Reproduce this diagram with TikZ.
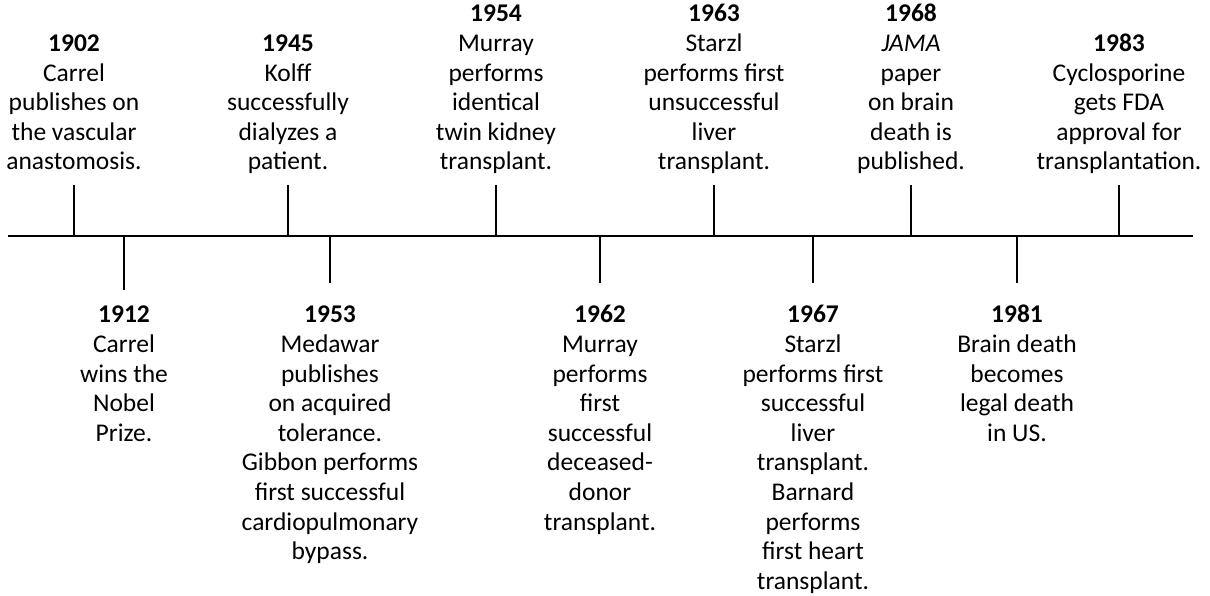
\documentclass[tikz,border=0pt]{standalone}
\usepackage{fontspec}
\setmainfont{Carlito}
\begin{document}
\begin{tikzpicture}[x=1pt,y=-1pt,
  axisline/.style={line width=2.8pt},
  tickline/.style={line width=2.6pt},
  lbl/.style={align=center,inner sep=0pt,font=\fontsize{25.5}{29.6}\selectfont},
  upper/.style={lbl,anchor=south},
  lower/.style={lbl,anchor=north}]
\useasboundingbox (0,0) rectangle (1210,596);
\fill[white] (0,0) rectangle (1210,596);
\coordinate (L) at (8,236);
\coordinate (R) at (1193,236);
\draw[axisline] (L) -- (R);
% upper ticks
\foreach \nm/\x in {1902/74,1945/288,1954/496,1963/714,1968/911,1983/1119}{
  \coordinate (a\nm) at (\x,236);
  \coordinate (t\nm) at (\x,185);
  \draw[tickline] (a\nm) -- (t\nm);
}
% lower ticks
\foreach \nm/\x/\e in {1912/124/290,1953/330/283,1962/600/283,1967/813/283,1981/1017/283}{
  \coordinate (a\nm) at (\x,236);
  \coordinate (t\nm) at (\x,\e);
  \draw[tickline] (a\nm) -- (t\nm);
}
% upper labels
\node[upper] (n1902) at (74,179) {\textbf{1902}\\Carrel\\publishes on\\the vascular\\anastomosis.\strut};
\node[upper] (n1945) at (288,179) {\textbf{1945}\\Kolff\\successfully\\dialyzes a\\patient.\strut};
\node[upper] (n1954) at (496,179) {\textbf{1954}\\Murray\\performs\\identical\\twin kidney\\transplant.\strut};
\node[upper] (n1963) at (714,179) {\textbf{1963}\\Starzl\\performs first\\unsuccessful\\liver\\transplant.\strut};
\node[upper] (n1968) at (911,179) {\textbf{1968}\\\textit{JAMA}\\paper\\on brain\\death is\\published.\strut};
\node[upper] (n1983) at (1119,179) {\textbf{1983}\\Cyclosporine\\gets FDA\\approval for\\transplantation.\strut};
% lower labels
\node[lower] (n1912) at (124,302) {\strut\textbf{1912}\\Carrel\\wins the\\Nobel\\Prize.};
\node[lower] (n1953) at (330,302) {\strut\textbf{1953}\\Medawar\\publishes\\on acquired\\tolerance.\\Gibbon performs\\first successful\\cardiopulmonary\\bypass.};
\node[lower] (n1962) at (600,302) {\strut\textbf{1962}\\Murray\\performs\\first\\successful\\deceased-\\donor\\transplant.};
\node[lower] (n1967) at (813,302) {\strut\textbf{1967}\\Starzl\\performs first\\successful\\liver\\transplant.\\Barnard\\performs\\first heart\\transplant.};
\node[lower] (n1981) at (1017,302) {\strut\textbf{1981}\\Brain death\\becomes\\legal death\\in US.};
\end{tikzpicture}
\end{document}
